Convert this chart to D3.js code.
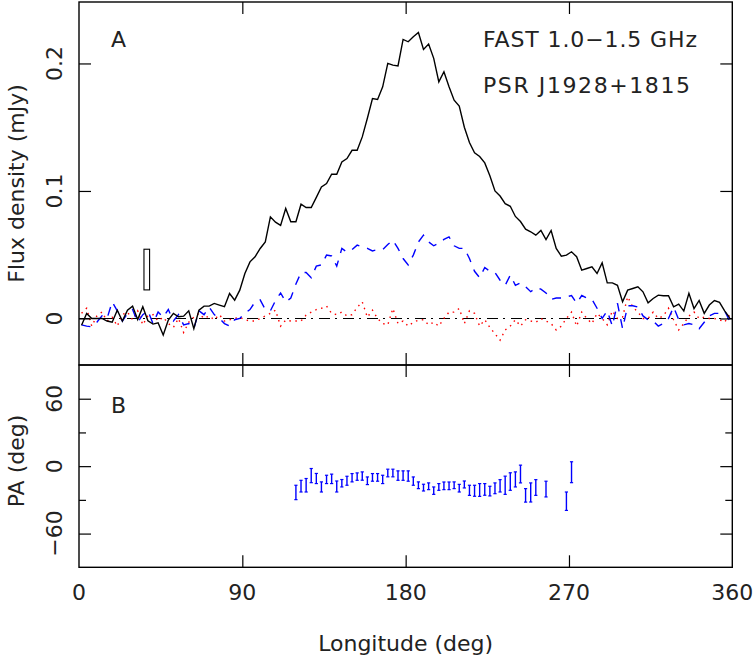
<!DOCTYPE html>
<html>
<head>
<meta charset="utf-8">
<script src="https://cdn.jsdelivr.net/npm/d3@7/dist/d3.min.js"></script>
<style>
  html, body { margin: 0; padding: 0; background: #fff; }
  svg text { font-family: "DejaVu Sans", "Liberation Sans", sans-serif; fill: #222; }
</style>
</head>
<body>
<svg id="chart" width="756" height="659"></svg>
<script>
// ---------------- data ----------------
const nBins = 128;
// Total intensity I (mJy)
const stokesI = [
  -0.0053, 0.0039, 0.0, 0.0, 0.0, -0.002, -0.003, 0.0065, -0.002, 0.0065,
  0.0097, -0.0008, 0.0092, -0.0018, -0.0044, -0.0034, -0.013, -0.0013, 0.004, 0.0013,
  0.0018, 0.006, -0.008, 0.0065, 0.0097, 0.0097, 0.0118, 0.0105, 0.0092, 0.0196,
  0.0144, 0.0222, 0.0353, 0.0444, 0.0484, 0.0549, 0.0601, 0.0797, 0.0755, 0.073,
  0.0863, 0.0758, 0.0758, 0.0896, 0.087, 0.087, 0.095, 0.1032, 0.1058, 0.1131,
  0.1131, 0.1228, 0.1254, 0.1319, 0.1319, 0.1424, 0.157, 0.1725, 0.1717, 0.1817,
  0.2, 0.1987, 0.198, 0.2188, 0.217, 0.2209, 0.2243, 0.211, 0.2152, 0.204,
  0.1856, 0.1935, 0.1817, 0.1712, 0.1665, 0.150, 0.138, 0.130, 0.127, 0.122,
  0.112, 0.100, 0.096, 0.090, 0.088, 0.080, 0.076, 0.070, 0.068, 0.0653,
  0.069, 0.0619, 0.069, 0.0549, 0.0489, 0.0497, 0.0523, 0.0484, 0.0379, 0.0392,
  0.0405, 0.0353, 0.0436, 0.0279, 0.0279, 0.026, 0.0131, 0.0222, 0.0235, 0.0248,
  0.0209, 0.0123, 0.0157, 0.0183, 0.0178, 0.0178, 0.0091, 0.0112, 0.0058, 0.0197,
  0.0078, 0.0141, 0.004, 0.0105, 0.0141, 0.0127, 0.006, 0.0005
];
// Linear polarization L (mJy)
const stokesL = [
  -0.005, -0.006, -0.0065, -0.003, 0.002, 0.0, 0.013, 0.006, -0.002, 0.004,
  0.007, -0.003, 0.003, 0.006, -0.004, 0.005, 0.001, 0.007, -0.002, 0.003,
  -0.005, -0.004, -0.008, 0.006, 0.003, 0.009, 0.003, 0.0, -0.004, -0.006,
  -0.001, 0.0, 0.004, 0.007, 0.013, 0.0145, 0.007, 0.006, 0.014, 0.020,
  0.013, 0.016, 0.027, 0.036, 0.036, 0.032, 0.041, 0.042, 0.0497, 0.049,
  0.041, 0.055, 0.052, 0.054, 0.0575, 0.056, 0.055, 0.053, 0.054, 0.054,
  0.058, 0.0614, 0.055, 0.047, 0.042, 0.0497, 0.060, 0.0653, 0.060, 0.057,
  0.059, 0.062, 0.064, 0.057, 0.055, 0.055, 0.047, 0.037, 0.032, 0.040,
  0.037, 0.036, 0.030, 0.026, 0.034, 0.026, 0.028, 0.025, 0.021, 0.024,
  0.023, 0.020, 0.015, 0.016, 0.016, 0.017, 0.018, 0.012, 0.018, 0.016,
  0.015, 0.008, 0.0, 0.006, -0.006, 0.012, -0.008, 0.010, 0.010, 0.009,
  0.002, -0.001, -0.002, -0.006, -0.004, 0.0, 0.009, -0.001, -0.005, -0.004,
  -0.005, -0.008, -0.003, 0.002, 0.004, 0.004, 0.006, -0.002
];
// Circular polarization V (mJy)
const stokesV = [
  0.004, 0.008, -0.006, 0.002, 0.005, -0.002, 0.001, -0.006, 0.003, 0.005,
  -0.001, 0.006, -0.005, 0.002, 0.003, -0.002, 0.001, -0.004, -0.007, 0.0,
  -0.011, -0.003, 0.001, 0.004, 0.0, 0.002, -0.001, 0.003, -0.002, -0.001,
  0.0, 0.001, -0.001, -0.002, -0.002, 0.0, 0.002, 0.004, 0.0065, -0.006,
  -0.0013, -0.002, -0.002, -0.002, 0.0026, 0.005, 0.007, 0.008, 0.0097, 0.004,
  0.003, 0.005, 0.002, 0.003, 0.0086, 0.013, 0.001, 0.0065, 0.0, -0.004,
  -0.005, 0.0078, -0.004, -0.002, -0.006, -0.003, -0.0013, -0.001, -0.005, -0.003,
  -0.006, 0.0, 0.005, 0.005, 0.0078, -0.004, 0.006, 0.004, -0.006, -0.001,
  -0.007, -0.012, -0.017, -0.009, -0.006, -0.001, -0.006, -0.001, -0.002, -0.003,
  0.0, -0.002, -0.004, -0.009, -0.006, 0.0, 0.005, -0.006, 0.005, 0.0,
  -0.004, 0.004, 0.0, -0.005, 0.006, 0.0, 0.001, 0.017, 0.009, 0.005,
  0.0, 0.0, 0.005, 0.0, 0.002, 0.008, -0.001, -0.009, -0.004, 0.002,
  0.005, 0.0, 0.001, 0.0, 0.0, -0.001, -0.003, 0.003
];
// Position angle (deg) with errors
const paLon = [
  119.53, 122.34, 125.16, 127.97, 130.78, 133.59, 136.41, 139.22, 142.03, 144.84,
  147.66, 150.47, 153.28, 156.09, 158.91, 161.72, 164.53, 167.34, 170.16, 172.97,
  175.78, 178.59, 181.41, 184.22, 187.03, 189.84, 192.66, 195.47, 198.28, 201.09,
  203.91, 206.72, 209.53, 212.34, 215.16, 217.97, 220.78, 223.59, 226.41, 229.22,
  232.03, 234.84, 237.66, 240.47, 243.28, 246.09, 248.91, 251.72, 257.34, 268.59,
  271.41
];
const paVal = [
  -23.4, -17.8, -17.0, -8.4, -11.0, -18.5, -11.8, -11.3, -18.1, -15.2,
  -13.0, -10.3, -9.3, -8.8, -13.0, -10.0, -10.0, -11.8, -6.1, -6.1,
  -8.4, -8.4, -8.8, -13.3, -17.0, -19.1, -17.9, -21.8, -18.5, -17.5,
  -17.5, -17.0, -19.6, -16.3, -21.5, -21.9, -21.2, -20.7, -22.2, -19.7,
  -17.5, -17.0, -13.7, -11.8, -7.0, -26.0, -23.4, -19.0, -20.4, -31.2,
  -5.4
];
const paErr = [
  6.4, 5.2, 6.0, 6.3, 4.5, 4.5, 3.7, 4.2, 4.9, 3.3,
  4.0, 3.7, 3.3, 3.7, 3.4, 3.4, 3.4, 3.7, 3.4, 3.4,
  4.2, 4.2, 4.6, 3.7, 3.0, 3.0, 3.0, 3.3, 3.0, 3.4,
  3.4, 3.0, 3.4, 3.1, 4.5, 4.9, 5.7, 5.2, 4.3, 4.8,
  5.5, 8.1, 7.8, 6.7, 7.9, 6.0, 8.5, 7.0, 7.0, 8.2,
  9.3
];
// Off-pulse noise box (longitude range, flux range)
const noiseBoxLon = [35.8, 38.9];
const noiseBoxFlux = [0.0224, 0.0543];

const xTicks = [0, 90, 180, 270, 360];
const fluxTicks = [0, 0.1, 0.2];
const fluxTickLabels = ["0", "0.1", "0.2"];
const paTicks = [-60, 0, 60];
const paTickLabels = ["\u221260", "0", "60"];
const paMinorTicks = [-30, 30];
const titleLines = ["FAST 1.0\u22121.5 GHz", "PSR J1928+1815"];

// ---------------- layout ----------------
const L = 79, R = 732.3, T1 = 2, B1 = 365, T2 = 365, B2 = 567.3;
const svg = d3.select("#chart");

const x = d3.scaleLinear().domain([0, 360]).range([L, R]);
const yF = d3.scaleLinear().domain([-0.0365, 0.2482]).range([B1, T1]);
const yP = d3.scaleLinear().domain([-90, 90]).range([B2, T2]);

const lonOf = i => (i + 0.5) * 360 / nBins;

// clip for top panel
svg.append("clipPath").attr("id", "clipTop").append("rect")
  .attr("x", L).attr("y", T1).attr("width", R - L).attr("height", B1 - T1);

const gTop = svg.append("g").attr("clip-path", "url(#clipTop)");

// zero line (dash-dot)
gTop.append("line")
  .attr("x1", x(0)).attr("x2", x(360)).attr("y1", yF(0)).attr("y2", yF(0))
  .attr("stroke", "#000").attr("stroke-width", 1.1)
  .attr("stroke-dasharray", "11,5,2,6");

const line = d3.line().x((d, i) => x(lonOf(i))).y(d => yF(d));

gTop.append("path").datum(stokesV).attr("d", line)
  .attr("fill", "none").attr("stroke", "#ff0000").attr("stroke-width", 1.4)
  .attr("stroke-dasharray", "1.5,4.5");
gTop.append("path").datum(stokesL).attr("d", line)
  .attr("fill", "none").attr("stroke", "#0000ff").attr("stroke-width", 1.4)
  .attr("stroke-dasharray", "9,8");
gTop.append("path").datum(stokesI).attr("d", line)
  .attr("fill", "none").attr("stroke", "#000").attr("stroke-width", 1.4);

// noise box
svg.append("rect")
  .attr("x", x(noiseBoxLon[0])).attr("y", yF(noiseBoxFlux[1]))
  .attr("width", x(noiseBoxLon[1]) - x(noiseBoxLon[0]))
  .attr("height", yF(noiseBoxFlux[0]) - yF(noiseBoxFlux[1]))
  .attr("fill", "#fff").attr("stroke", "#000").attr("stroke-width", 1.1);

// PA error bars
const gPA = svg.append("g");
const capW = 1.6;
paLon.forEach((lon, i) => {
  const cx = x(lon), y1 = yP(paVal[i] + paErr[i]), y2 = yP(paVal[i] - paErr[i]);
  gPA.append("line").attr("x1", cx).attr("x2", cx).attr("y1", y1).attr("y2", y2)
    .attr("stroke", "#0000ff").attr("stroke-width", 1.4);
  gPA.append("line").attr("x1", cx - capW).attr("x2", cx + capW).attr("y1", y1).attr("y2", y1)
    .attr("stroke", "#0000ff").attr("stroke-width", 1.2);
  gPA.append("line").attr("x1", cx - capW).attr("x2", cx + capW).attr("y1", y2).attr("y2", y2)
    .attr("stroke", "#0000ff").attr("stroke-width", 1.2);
});

// ---------------- axes (ticks) ----------------
function styleAxis(g) {
  g.select(".domain").remove();
  g.selectAll("text").remove();
  g.selectAll("line").attr("stroke", "#000").attr("stroke-width", 1.2);
}
const inner = [90, 180, 270];
// top panel
svg.append("g").attr("transform", `translate(0,${T1})`)
  .call(d3.axisTop(x).tickValues(inner).tickSize(-12)).call(styleAxis);
svg.append("g").attr("transform", `translate(0,${B1})`)
  .call(d3.axisBottom(x).tickValues(inner).tickSize(-12)).call(styleAxis);
svg.append("g").attr("transform", `translate(${L},0)`)
  .call(d3.axisLeft(yF).tickValues(fluxTicks).tickSize(-12)).call(styleAxis);
svg.append("g").attr("transform", `translate(${R},0)`)
  .call(d3.axisRight(yF).tickValues(fluxTicks).tickSize(-12)).call(styleAxis);
// PA panel
svg.append("g").attr("transform", `translate(0,${T2})`)
  .call(d3.axisTop(x).tickValues(inner).tickSize(-12)).call(styleAxis);
svg.append("g").attr("transform", `translate(0,${B2})`)
  .call(d3.axisBottom(x).tickValues(inner).tickSize(-12)).call(styleAxis);
svg.append("g").attr("transform", `translate(${L},0)`)
  .call(d3.axisLeft(yP).tickValues(paTicks).tickSize(-12)).call(styleAxis);
svg.append("g").attr("transform", `translate(${L},0)`)
  .call(d3.axisLeft(yP).tickValues(paMinorTicks).tickSize(-7)).call(styleAxis);
svg.append("g").attr("transform", `translate(${R},0)`)
  .call(d3.axisRight(yP).tickValues(paTicks).tickSize(-12)).call(styleAxis);
svg.append("g").attr("transform", `translate(${R},0)`)
  .call(d3.axisRight(yP).tickValues(paMinorTicks).tickSize(-7)).call(styleAxis);

// frames
svg.append("rect").attr("x", L).attr("y", T1).attr("width", R - L).attr("height", B1 - T1)
  .attr("fill", "none").attr("stroke", "#000").attr("stroke-width", 1.4);
svg.append("rect").attr("x", L).attr("y", T2).attr("width", R - L).attr("height", B2 - T2)
  .attr("fill", "none").attr("stroke", "#000").attr("stroke-width", 1.4);

// ---------------- labels ----------------
const fs = 22;
// x tick labels
svg.selectAll(".xl").data(xTicks).enter().append("text")
  .attr("x", d => x(d)).attr("y", 600).attr("text-anchor", "middle")
  .attr("font-size", fs).text(d => d);
// flux tick labels (rotated)
svg.selectAll(".fl").data(fluxTicks).enter().append("text")
  .attr("transform", d => `translate(62,${yF(d)}) rotate(-90)`)
  .attr("text-anchor", "middle").attr("font-size", fs)
  .text((d, i) => fluxTickLabels[i]);
// PA tick labels
svg.selectAll(".pl").data(paTicks).enter().append("text")
  .attr("transform", d => `translate(62,${yP(d)}) rotate(-90)`)
  .attr("text-anchor", "middle").attr("font-size", fs)
  .text((d, i) => paTickLabels[i]);
// axis titles
svg.append("text").attr("transform", `translate(23.5,${(T1 + B1) / 2}) rotate(-90)`)
  .attr("text-anchor", "middle").attr("font-size", fs).text("Flux density (mJy)");
svg.append("text").attr("transform", `translate(23.5,461) rotate(-90)`)
  .attr("text-anchor", "middle").attr("font-size", fs).text("PA (deg)");
svg.append("text").attr("x", (L + R) / 2).attr("y", 651).attr("text-anchor", "middle")
  .attr("font-size", fs).text("Longitude (deg)");
// panel letters
svg.append("text").attr("x", 111).attr("y", 47).attr("font-size", fs).text("A");
svg.append("text").attr("x", 111).attr("y", 413).attr("font-size", fs).text("B");
// title text
svg.append("text").attr("x", 483).attr("y", 47).attr("font-size", fs)
  .attr("textLength", 214).attr("lengthAdjust", "spacing").text(titleLines[0]);
svg.append("text").attr("x", 483).attr("y", 93).attr("font-size", fs)
  .attr("textLength", 207).attr("lengthAdjust", "spacing").text(titleLines[1]);
</script>
</body>
</html>
